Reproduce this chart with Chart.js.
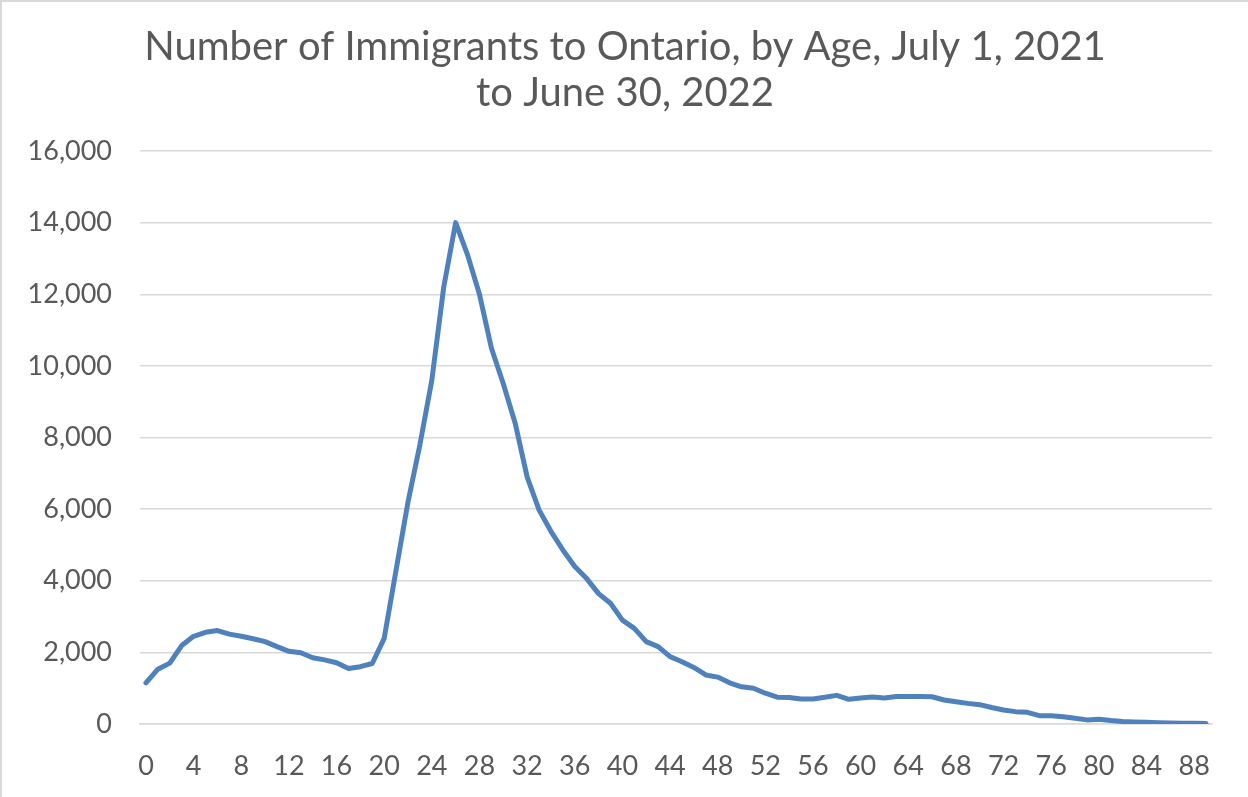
<!DOCTYPE html>
<html>
<head>
<meta charset="utf-8">
<script src="https://cdn.jsdelivr.net/npm/chart.js@4.4.1/dist/chart.umd.min.js"></script>
<style>
  html, body { margin: 0; padding: 0; background: #ffffff; }
  #wrap { position: relative; width: 1248px; height: 797px; box-sizing: border-box;
          border-left: 2px solid #d9d9d9; border-top: 2px solid #d9d9d9; }
  canvas { display: block; }
</style>
</head>
<body>
<div id="wrap"><canvas id="chart"></canvas></div>
<script>
// Single years of age, 0 to 89
const ages = [
  0, 1, 2, 3, 4, 5, 6, 7, 8, 9,
  10, 11, 12, 13, 14, 15, 16, 17, 18, 19,
  20, 21, 22, 23, 24, 25, 26, 27, 28, 29,
  30, 31, 32, 33, 34, 35, 36, 37, 38, 39,
  40, 41, 42, 43, 44, 45, 46, 47, 48, 49,
  50, 51, 52, 53, 54, 55, 56, 57, 58, 59,
  60, 61, 62, 63, 64, 65, 66, 67, 68, 69,
  70, 71, 72, 73, 74, 75, 76, 77, 78, 79,
  80, 81, 82, 83, 84, 85, 86, 87, 88, 89
];

// Immigrants to Ontario by age, July 1, 2021 to June 30, 2022
const immigrants = [
  1150, 1530, 1700, 2190, 2450, 2560, 2610, 2510, 2450, 2380,
  2300, 2160, 2030, 1990, 1850, 1790, 1710, 1550, 1600, 1690,
  2390, 4300, 6200, 7800, 9600, 12200, 14000, 13100, 12000, 10500,
  9500, 8400, 6900, 5980, 5380, 4860, 4400, 4060, 3640, 3370,
  2900, 2670, 2300, 2160, 1880, 1740, 1580, 1370, 1310, 1150,
  1040, 1000, 860, 750, 740, 700, 700, 745, 800, 690,
  725, 755, 725, 770, 770, 765, 760, 670, 622, 576,
  540, 460, 390, 345, 325, 232, 232, 204, 160, 115,
  130, 95, 70, 58, 47, 38, 30, 24, 20, 16
];

const yTickStep = 2000;
const yMax = 16000;
const xLabelEvery = 4;

const titleLines = [
  'Number of Immigrants to Ontario, by Age, July 1, 2021',
  'to June 30, 2022'
];

const textColor = '#595959';
const gridColor = '#d9d9d9';
const fontFamily = "Lato, 'Open Sans', 'Noto Sans', sans-serif";

new Chart(document.getElementById('chart'), {
  type: 'line',
  data: {
    labels: ages,
    datasets: [{
      label: 'Immigrants',
      data: immigrants,
      borderColor: '#4f81bd',
      backgroundColor: '#4f81bd',
      borderWidth: 5,
      pointRadius: 0,
      tension: 0,
      borderCapStyle: 'round',
      borderJoinStyle: 'round',
      fill: false
    }]
  },
  options: {
    responsive: true,
    maintainAspectRatio: false,
    animation: false,
    layout: { padding: 0 },
    plugins: {
      legend: { display: false },
      tooltip: { enabled: false },
      title: {
        display: true,
        text: titleLines,
        color: textColor,
        font: { family: fontFamily, size: 40, weight: 'normal', lineHeight: 1.15 },
        padding: { top: 22, bottom: 35 }
      }
    },
    scales: {
      x: {
        type: 'category',
        offset: true,
        grid: { display: false, drawTicks: false },
        border: { display: true, color: gridColor, width: 1.5 },
        ticks: {
          autoSkip: false,
          maxRotation: 0,
          minRotation: 0,
          padding: 26,
          color: textColor,
          font: { family: fontFamily, size: 27 },
          callback: function (value, index) {
            return index % xLabelEvery === 0 ? String(ages[index]) : '';
          }
        },
        afterFit: function (scale) { scale.height = 73; }
      },
      y: {
        min: 0,
        max: yMax,
        grid: { color: gridColor, lineWidth: 1.5, drawTicks: false },
        border: { display: false },
        ticks: {
          stepSize: yTickStep,
          padding: 28,
          color: textColor,
          font: { family: fontFamily, size: 27 },
          callback: function (value) { return value.toLocaleString('en-US'); }
        },
        afterFit: function (scale) { scale.width = 138; }
      },
      // empty right-hand margin so the title stays centred on the whole chart
      yRight: {
        position: 'right',
        min: 0,
        max: yMax,
        grid: { display: false, drawTicks: false },
        border: { display: false },
        ticks: { display: false },
        afterFit: function (scale) { scale.width = 36; }
      }
    }
  }
});
</script>
</body>
</html>
